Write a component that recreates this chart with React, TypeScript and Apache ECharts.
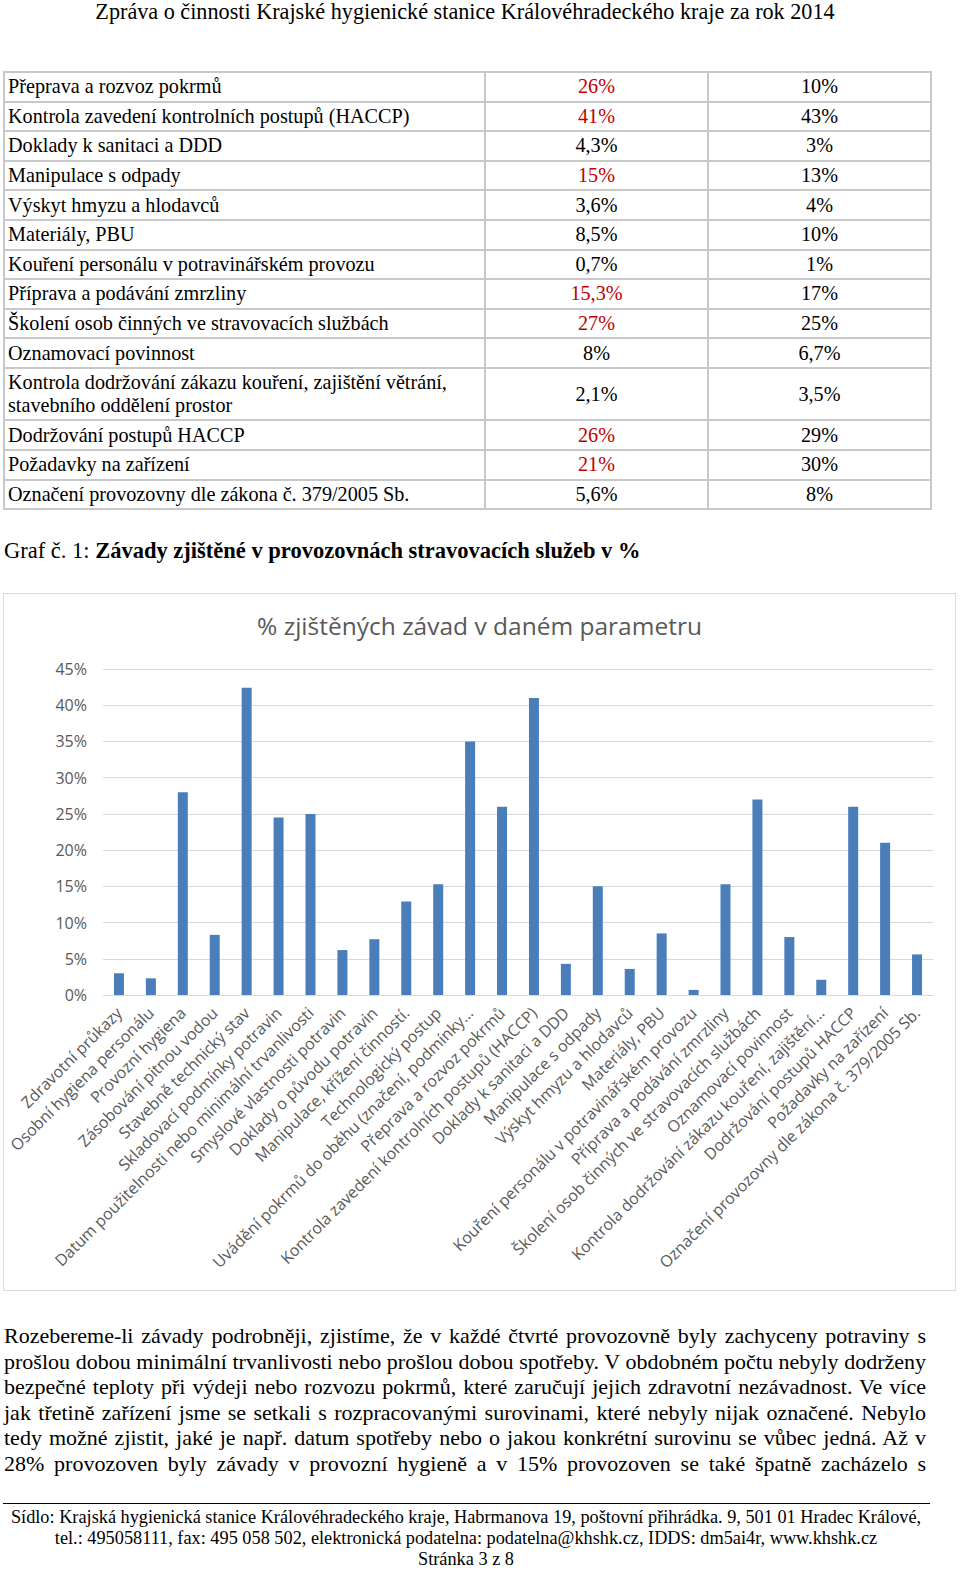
import React, { useEffect, useLayoutEffect, useRef } from "react";
import * as echarts from "echarts";

const headerText = "Zpráva o činnosti Krajské hygienické stanice Královéhradeckého kraje za rok 2014";

const tableLabels = [
  "Přeprava a rozvoz pokrmů",
  "Kontrola zavedení kontrolních postupů (HACCP)",
  "Doklady k sanitaci a DDD",
  "Manipulace s odpady",
  "Výskyt hmyzu a hlodavců",
  "Materiály, PBU",
  "Kouření personálu v potravinářském provozu",
  "Příprava a podávání zmrzliny",
  "Školení osob činných ve stravovacích službách",
  "Oznamovací povinnost",
  "Kontrola dodržování zákazu kouření, zajištění větrání, stavebního oddělení prostor",
  "Dodržování postupů HACCP",
  "Požadavky na zařízení",
  "Označení provozovny dle zákona č. 379/2005 Sb.",
];
const tableColA = ["26%", "41%", "4,3%", "15%", "3,6%", "8,5%", "0,7%", "15,3%", "27%", "8%", "2,1%", "26%", "21%", "5,6%"];
const tableColARed = [true, true, false, true, false, false, false, true, true, false, false, true, true, false];
const tableColB = ["10%", "43%", "3%", "13%", "4%", "10%", "1%", "17%", "25%", "6,7%", "3,5%", "29%", "30%", "8%"];

const chartTitle = "% zjištěných závad v daném parametru";
const categories = [
  "Zdravotní průkazy",
  "Osobní hygiena personálu",
  "Provozní hygiena",
  "Zásobování pitnou vodou",
  "Stavebně technický stav",
  "Skladovací podmínky potravin",
  "Datum použitelnosti nebo minimální trvanlivosti",
  "Smyslové vlastnosti potravin",
  "Doklady o původu potravin",
  "Manipulace, křížení činností.",
  "Technologický postup",
  "Uvádění pokrmů do oběhu (značení, podmínky…",
  "Přeprava a rozvoz pokrmů",
  "Kontrola zavedení kontrolních postupů (HACCP)",
  "Doklady k sanitaci a DDD",
  "Manipulace s odpady",
  "Výskyt hmyzu a hlodavců",
  "Materiály, PBU",
  "Kouření personálu v potravinářském provozu",
  "Příprava a podávání zmrzliny",
  "Školení osob činných ve stravovacích službách",
  "Oznamovací povinnost",
  "Kontrola dodržování zákazu kouření, zajištění…",
  "Dodržování postupů HACCP",
  "Požadavky na zařízení",
  "Označení provozovny dle zákona č. 379/2005 Sb.",
];
const values = [3, 2.3, 28, 8.3, 42.4, 24.5, 25, 6.2, 7.7, 12.9, 15.3, 35, 26, 41, 4.3, 15, 3.6, 8.5, 0.7, 15.3, 27, 8, 2.1, 26, 21, 5.6];
const yMin = 0;
const yMax = 45;
const yInterval = 5;

const captionNormal = "Graf č. 1: ";
const captionBold = "Závady zjištěné v provozovnách stravovacích služeb v %";

const paragraphLines = [
  "Rozebereme-li závady podrobněji, zjistíme, že v každé čtvrté provozovně byly zachyceny potraviny s",
  "prošlou dobou minimální trvanlivosti nebo prošlou dobou spotřeby. V obdobném počtu nebyly dodrženy",
  "bezpečné teploty při výdeji nebo rozvozu pokrmů, které zaručují jejich zdravotní nezávadnost. Ve více",
  "jak třetině zařízení jsme se setkali s rozpracovanými surovinami, které nebyly nijak označené. Nebylo",
  "tedy možné zjistit, jaké je např. datum spotřeby nebo o jakou konkrétní surovinu se vůbec jedná. Až v",
  "28% provozoven byly závady v provozní hygieně a v 15% provozoven se také špatně zacházelo s",
];

const footerLines = [
  "Sídlo: Krajská hygienická stanice Královéhradeckého kraje, Habrmanova 19, poštovní přihrádka. 9, 501 01 Hradec Králové,",
  "tel.: 495058111, fax: 495 058 502, elektronická podatelna: podatelna@khshk.cz, IDDS: dm5ai4r, www.khshk.cz",
  "Stránka 3 z 8",
];

const serif = "'Liberation Serif', 'Times New Roman', serif";
const sans = "'Open Sans', 'Noto Sans', sans-serif";

function Chart() {
  const ref = useRef<HTMLDivElement>(null);
  useEffect(() => {
    if (!ref.current) return;
    const chart = echarts.init(ref.current, null, { renderer: "svg" });
    chart.setOption({
      animation: false,
      backgroundColor: "#ffffff",
      title: {
        text: chartTitle,
        left: "center",
        top: 19,
        padding: 0,
        textStyle: { fontFamily: sans, fontSize: 24.5, fontWeight: "normal", color: "#595959" },
      },
      grid: { left: 99, right: 22, top: 75, bottom: 295, containLabel: false },
      xAxis: {
        type: "category",
        data: categories,
        axisLine: { show: true, lineStyle: { color: "#d9d9d9", width: 1 } },
        axisTick: { show: false },
        axisLabel: {
          interval: 0,
          rotate: 45,
          margin: 15,
          fontFamily: sans,
          fontSize: 16,
          color: "#595959",
        },
      },
      yAxis: {
        type: "value",
        min: yMin,
        max: yMax,
        interval: yInterval,
        axisLine: { show: false },
        axisTick: { show: false },
        splitLine: { lineStyle: { color: "#d9d9d9", width: 1 } },
        axisLabel: {
          formatter: "{value}%",
          margin: 16,
          fontFamily: sans,
          fontSize: 16,
          color: "#595959",
        },
      },
      series: [
        {
          type: "bar",
          data: values,
          barWidth: 10,
          itemStyle: { color: "#4a7ebb" },
        },
      ],
    });
    return () => chart.dispose();
  }, []);
  return <div ref={ref} style={{ width: 951, height: 696 }} />;
}

function JustifiedLine({ text, width }: { text: string; width: number }) {
  const ref = useRef<HTMLSpanElement>(null);
  useLayoutEffect(() => {
    const el = ref.current;
    if (!el) return;
    el.style.wordSpacing = "0px";
    el.style.transform = "none";
    const w = el.getBoundingClientRect().width;
    const spaces = (text.match(/ /g) || []).length;
    if (w < width && spaces > 0) {
      el.style.wordSpacing = `${(width - w) / spaces}px`;
    } else if (w > width) {
      el.style.transform = `scaleX(${width / w})`;
    }
  }, [text, width]);
  return (
    <span ref={ref} style={{ display: "inline-block", whiteSpace: "pre", transformOrigin: "0 0" }}>
      {text}
    </span>
  );
}

export default function App() {
  const rowH = 29.6;
  const tallRowH = 52.4;
  const cellBorder = "2px solid #c8c8c8";
  return (
    <div
      style={{
        position: "absolute",
        left: 0,
        top: 0,
        width: 960,
        height: 1571,
        background: "#ffffff",
        fontFamily: serif,
        color: "#000",
        overflow: "hidden",
      }}
    >
      <div
        style={{
          position: "absolute",
          left: 0,
          top: 0,
          width: 930,
          textAlign: "center",
          fontSize: 22.2,
          lineHeight: "24px",
          whiteSpace: "nowrap",
        }}
      >
        {headerText}
      </div>

      <table
        style={{
          position: "absolute",
          left: 3,
          top: 71,
          borderCollapse: "collapse",
          fontSize: 20.2,
          fontFamily: serif,
        }}
      >
        <tbody>
          {tableLabels.map((label, i) => {
            const h = label.length > 60 ? tallRowH : rowH;
            return (
              <tr key={i} style={{ height: h }}>
                <td
                  style={{
                    width: 481,
                    border: cellBorder,
                    padding: "0 3px",
                    lineHeight: "23px",
                    verticalAlign: "middle",
                    boxSizing: "border-box",
                    whiteSpace: "nowrap",
                  }}
                >
                  {label.length > 60 ? (
                    <>
                      Kontrola dodržování zákazu kouření, zajištění větrání,
                      <br />
                      stavebního oddělení prostor
                    </>
                  ) : (
                    label
                  )}
                </td>
                <td
                  style={{
                    width: 223,
                    border: cellBorder,
                    padding: 0,
                    textAlign: "center",
                    verticalAlign: "middle",
                    color: tableColARed[i] ? "#c00000" : "#000",
                    boxSizing: "border-box",
                  }}
                >
                  {tableColA[i]}
                </td>
                <td
                  style={{
                    width: 223,
                    border: cellBorder,
                    padding: 0,
                    textAlign: "center",
                    verticalAlign: "middle",
                    boxSizing: "border-box",
                  }}
                >
                  {tableColB[i]}
                </td>
              </tr>
            );
          })}
        </tbody>
      </table>

      <div style={{ position: "absolute", left: 4, top: 539, fontSize: 22.5, lineHeight: "24px", whiteSpace: "nowrap" }}>
        {captionNormal}
        <b>{captionBold}</b>
      </div>

      <div
        style={{
          position: "absolute",
          left: 3,
          top: 593,
          width: 953,
          height: 698,
          border: "1px solid #d9d9d9",
          boxSizing: "border-box",
        }}
      >
        <Chart />
      </div>

      <div style={{ position: "absolute", left: 4, top: 1323, width: 922, fontSize: 22 }}>
        {paragraphLines.map((line, i) => (
          <div key={i} style={{ height: 25.6, lineHeight: "25.6px", whiteSpace: "nowrap" }}>
            <JustifiedLine text={line} width={922} />
          </div>
        ))}
      </div>

      <div style={{ position: "absolute", left: 3, top: 1503, width: 927, height: 1, background: "#000" }} />
      <div
        style={{
          position: "absolute",
          left: 0,
          top: 1507,
          width: 932,
          textAlign: "center",
          fontSize: 18.3,
          lineHeight: "21px",
          whiteSpace: "nowrap",
        }}
      >
        {footerLines.map((l, i) => (
          <div key={i}>{l}</div>
        ))}
      </div>
    </div>
  );
}
